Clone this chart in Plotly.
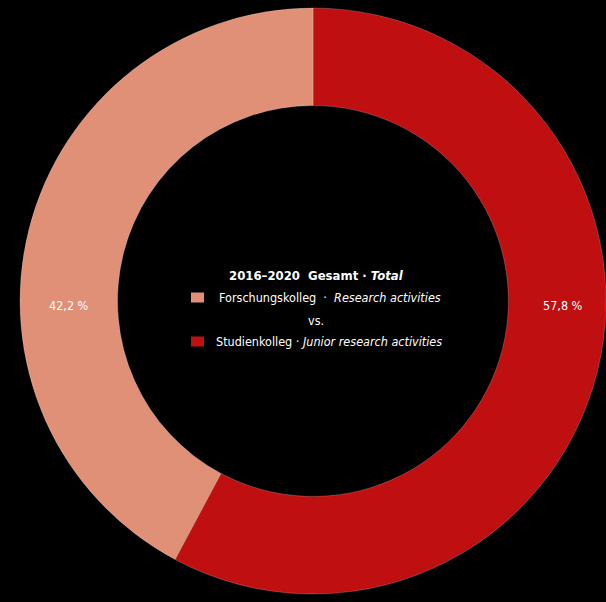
import plotly.graph_objects as go

# Share of funding by programme, 2016–2020
labels = ["Forschungskolleg · Research activities", "Studienkolleg · Junior research activities"]
values = [42.2, 57.8]
colors = ["#E09076", "#C00F10"]

W, H = 606, 602
FONT = "Liberation Sans Narrow, DejaVu Sans Condensed, Arial Narrow, sans-serif"

# Studienkolleg runs clockwise from 12 o'clock, Forschungskolleg fills the left side
fig = go.Figure(
    go.Pie(
        labels=labels[::-1],
        values=values[::-1],
        hole=0.667,
        sort=False,
        direction="clockwise",
        rotation=0,
        textinfo="none",
        hoverinfo="label+percent",
        marker=dict(colors=colors[::-1], line=dict(color="rgba(255,255,255,0.35)", width=0.6)),
        domain=dict(x=[20 / W, 1.0], y=[0.0, 1.0]),
        showlegend=False,
    )
)


def fmt(v):
    return f"{v:.1f}".replace(".", ",") + " %"


def px(x, y):
    return dict(x=x / W, y=1 - y / H, xref="paper", yref="paper")


white = lambda size: dict(family=FONT, size=size, color="#ffffff")

annotations = [
    dict(**px(68.5, 305.5), xanchor="center", yanchor="middle",
         text=fmt(values[0]), showarrow=False, font=white(12.5)),
    dict(**px(562.5, 305.5), xanchor="center", yanchor="middle",
         text=fmt(values[1]), showarrow=False, font=white(12.5)),
    dict(**px(316, 275), xanchor="center", yanchor="middle",
         text="<b>2016–2020  Gesamt · <i>Total</i></b>", showarrow=False, font=white(13)),
    dict(**px(217, 297), xanchor="left", yanchor="middle",
         text="Forschungskolleg  ·  <i>Research activities</i>", showarrow=False,
         font=white(12.5)),
    dict(**px(316, 320), xanchor="center", yanchor="middle",
         text="vs.", showarrow=False, font=white(12.5)),
    dict(**px(214, 341), xanchor="left", yanchor="middle",
         text="Studienkolleg · <i>Junior research activities</i>", showarrow=False,
         font=white(12.5)),
]

shapes = [
    dict(type="rect", xref="paper", yref="paper",
         x0=191 / W, x1=204 / W, y0=1 - 302.5 / H, y1=1 - 292.5 / H,
         fillcolor=colors[0], line=dict(width=0)),
    dict(type="rect", xref="paper", yref="paper",
         x0=191 / W, x1=204 / W, y0=1 - 346.5 / H, y1=1 - 336.5 / H,
         fillcolor=colors[1], line=dict(width=0)),
]

fig.update_layout(
    width=W,
    height=H,
    margin=dict(l=0, r=0, t=0, b=0),
    paper_bgcolor="#000000",
    plot_bgcolor="#000000",
    annotations=annotations,
    shapes=shapes,
)

fig.write_html("out.html")
